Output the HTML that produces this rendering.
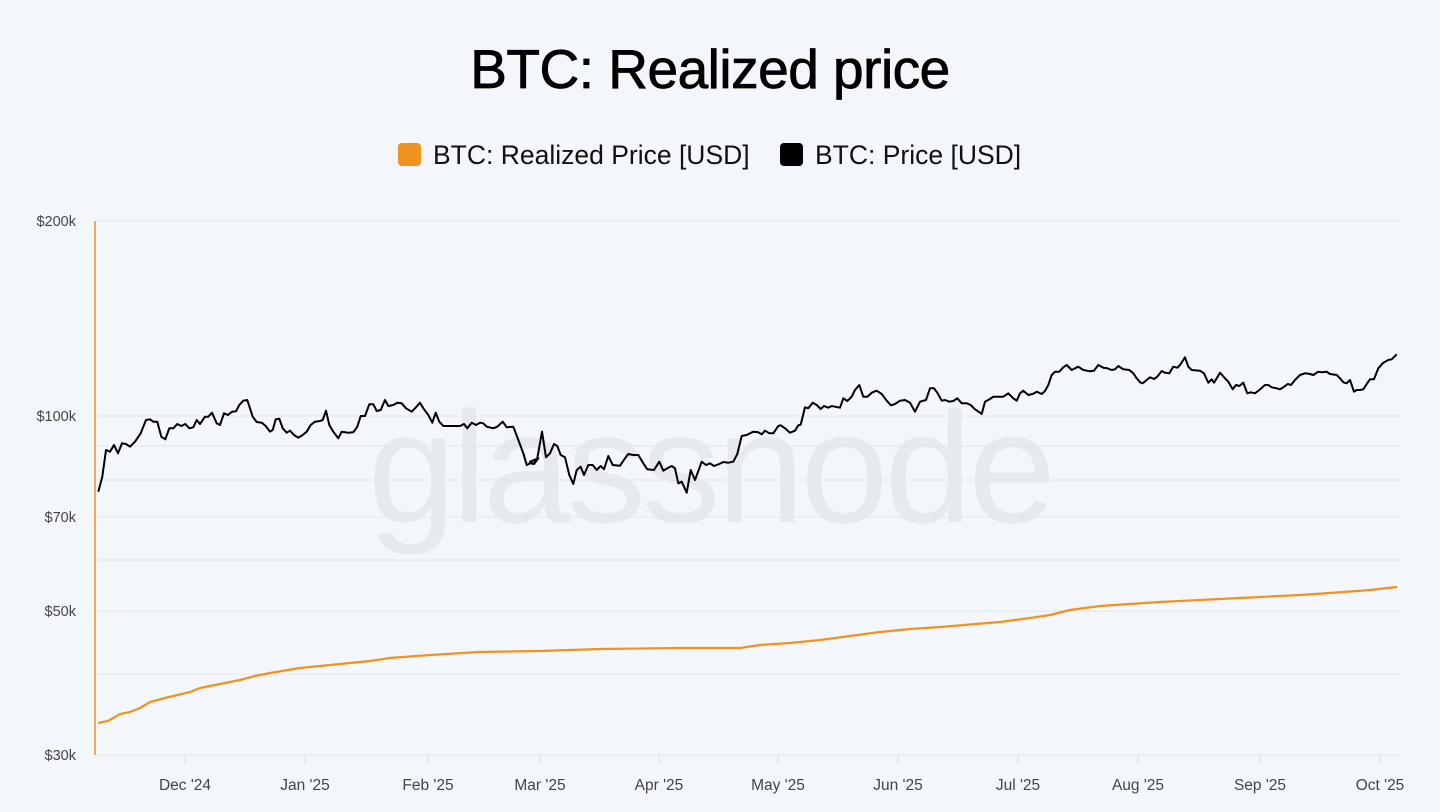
<!DOCTYPE html>
<html><head><meta charset="utf-8"><style>
body{margin:0;background:#f3f6fa;font-family:"Liberation Sans",sans-serif;}
</style></head><body>
<svg id="s" width="1440" height="812" xmlns="http://www.w3.org/2000/svg" style="display:block">
<rect width="1440" height="812" fill="#f3f6fa"/>
<text x="710" y="88" text-anchor="middle" font-size="55" font-weight="500" fill="#000" font-family="Liberation Sans, sans-serif" letter-spacing="-0.5" stroke="#000" stroke-width="0.8">BTC: Realized price</text>
<rect x="398" y="143" width="23" height="23" rx="4" fill="#f0921e"/>
<text x="433" y="164" font-size="26.5" fill="#111">BTC: Realized Price [USD]</text>
<rect x="780" y="143" width="23" height="23" rx="4" fill="#000"/>
<text x="815" y="164" font-size="26.5" fill="#111">BTC: Price [USD]</text>
<text x="710" y="522" text-anchor="middle" font-size="158" fill="#000" fill-opacity="0.05" font-family="Liberation Sans, sans-serif" letter-spacing="-4">glassnode</text>
<g stroke="#e3e7ec" stroke-width="1">
<line x1="95" x2="1400" y1="221" y2="221"/><line x1="95" x2="1400" y1="416" y2="416"/>
<line x1="95" x2="1400" y1="446" y2="446"/><line x1="95" x2="1400" y1="480" y2="480"/>
<line x1="95" x2="1400" y1="517" y2="517"/><line x1="95" x2="1400" y1="560" y2="560"/>
<line x1="95" x2="1400" y1="611" y2="611"/><line x1="95" x2="1400" y1="674" y2="674"/>
<line x1="95" x2="1400" y1="755" y2="755"/>
</g>
<g stroke="#d8dce2"><line x1="185" x2="185" y1="755" y2="763"/><line x1="305" x2="305" y1="755" y2="763"/><line x1="428" x2="428" y1="755" y2="763"/><line x1="540" x2="540" y1="755" y2="763"/><line x1="659" x2="659" y1="755" y2="763"/><line x1="778" x2="778" y1="755" y2="763"/><line x1="898" x2="898" y1="755" y2="763"/><line x1="1018" x2="1018" y1="755" y2="763"/><line x1="1138" x2="1138" y1="755" y2="763"/><line x1="1260" x2="1260" y1="755" y2="763"/><line x1="1380" x2="1380" y1="755" y2="763"/></g>
<line x1="95" x2="95" y1="221" y2="755" stroke="#f0921e" stroke-width="1.5"/>
<g font-size="14.5" fill="#444" text-anchor="end">
<text x="76" y="226">$200k</text><text x="76" y="421">$100k</text><text x="76" y="522">$70k</text><text x="76" y="616">$50k</text><text x="76" y="760">$30k</text>
</g>
<g font-size="15.5" fill="#444" text-anchor="middle">
<text x="185" y="790">Dec '24</text><text x="305" y="790">Jan '25</text><text x="428" y="790">Feb '25</text><text x="540" y="790">Mar '25</text><text x="659" y="790">Apr '25</text><text x="778" y="790">May '25</text><text x="898" y="790">Jun '25</text><text x="1018" y="790">Jul '25</text><text x="1138" y="790">Aug '25</text><text x="1260" y="790">Sep '25</text><text x="1380" y="790">Oct '25</text>
</g>
<path id="o" fill="none" stroke="#f0921e" stroke-width="2.2" d="M98,723 L108,721 L120,714 L130,712 L140,708 L150,702 L165,698 L190,692 L200,688 L210,686 L225,683 L240,680 L255,676 L270,673 L300,668 L330,665 L350,663 L370,661 L390,658 L430,655 L480,652 L540,651 L600,649 L680,648 L740,648 L760,645 L790,643 L820,640 L850,636 L880,632 L910,629 L940,627 L1000,622 L1030,618 L1050,615 L1070,610 L1100,606 L1130,604 L1160,602 L1200,600 L1260,597 L1300,595 L1330,593 L1370,590 L1397,587"/>
<path id="b" fill="none" stroke="#000" stroke-width="2" stroke-linejoin="round"/>
</svg>
<script>
var z2=[25,455,37,410,48,330,60,335,72,315,84,340,96,310,108,312,120,320,135,305,152,280,168,240,180,238,190,245,202,245,214,290,226,298,238,265,250,265,262,252,274,258,286,252,298,265,310,262,320,240,330,252,345,230,355,230,366,218,380,250,390,255,402,220,414,225,426,215,438,214,448,195,460,182,472,180,488,230,500,246,515,248,527,258,540,275,548,270,557,238,568,236,578,265,590,278,600,272,612,285,625,293,638,285,650,275,662,255,675,245,690,243,698,240,708,212,718,255,730,275,745,295,755,275,775,278,790,277,802,260,812,228,825,228,838,193,850,193,860,213,872,210,885,180,895,198,910,195,922,188,935,190,948,205,965,215,975,205,990,188,1000,205,1015,225,1027,248,1037,218,1048,245,1060,258,1110,258,1122,252,1132,265,1145,248,1158,255,1170,248,1180,250,1190,260,1210,265,1222,260,1238,245,1250,262,1270,260,1285,300,1300,340,1310,375,1320,370,1332,372,1345,355];
var z3=[0,365,10,372,22,355,36,275,48,352,60,340,72,312,82,318,92,345,105,352,118,405,130,432,140,390,152,380,162,405,175,375,188,375,200,390,212,378,222,388,235,348,248,375,270,377,285,355,295,342,310,345,325,345,340,370,352,388,372,390,388,365,400,392,412,385,425,378,435,385,445,430,455,425,462,440,470,458,482,390,495,420,515,365,528,375,540,370,552,378,568,372,580,366,595,368,610,365,622,342,635,288,650,285,670,275,685,277,695,283,705,272,718,280,730,280,745,258,752,256,765,265,780,278,795,272,805,256,812,254,825,202,835,205,848,188,860,195,872,207,882,198,895,203,905,198,915,200,930,203,940,175,952,183,965,170,975,150,988,135,1000,170,1012,170,1025,158,1040,152,1055,162,1070,182,1083,196,1095,192,1110,182,1125,180,1140,188,1155,215,1170,185,1188,180,1200,145,1212,145,1222,158,1235,182,1245,180,1258,185,1270,183,1282,175,1295,190,1310,190,1322,195,1335,208,1350,218];
var z4=[65,252,75,215,90,207,100,200,130,200,145,190,160,205,170,212,180,190,190,182,205,195,218,192,230,185,245,192,255,183,265,165,275,135,285,125,298,125,310,112,320,105,335,120,355,110,370,120,390,124,402,122,415,105,430,113,442,115,455,120,465,118,475,108,490,118,508,120,520,130,530,145,540,157,548,160,560,150,570,142,582,147,592,140,605,123,615,128,628,130,640,110,652,113,660,105,675,82,685,110,695,120,720,122,732,130,745,158,755,148,762,158,772,142,780,128,795,145,805,155,818,178,828,165,838,168,850,158,862,190,872,187,885,190,898,180,915,165,925,165,935,172,950,175,960,178,970,172,983,162,993,165,1005,150,1020,135,1035,130,1050,132,1060,135,1075,125,1085,127,1100,125,1110,132,1130,135,1140,145,1150,157,1160,160,1170,150,1182,185,1190,180,1200,180,1210,178,1220,162,1230,148,1242,148,1255,115,1270,98,1285,90,1295,88,1310,73];
var pts=[];
function add(a,ox,oy){for(var i=0;i<a.length;i+=2)pts.push((ox+a[i]/3).toFixed(1)+","+(oy+a[i+1]/3).toFixed(1));}
add(z2,90,340);add(z3,530,340);add(z4,960,330);
document.getElementById("b").setAttribute("d","M"+pts.join(" L"));
</script>
</body></html>
